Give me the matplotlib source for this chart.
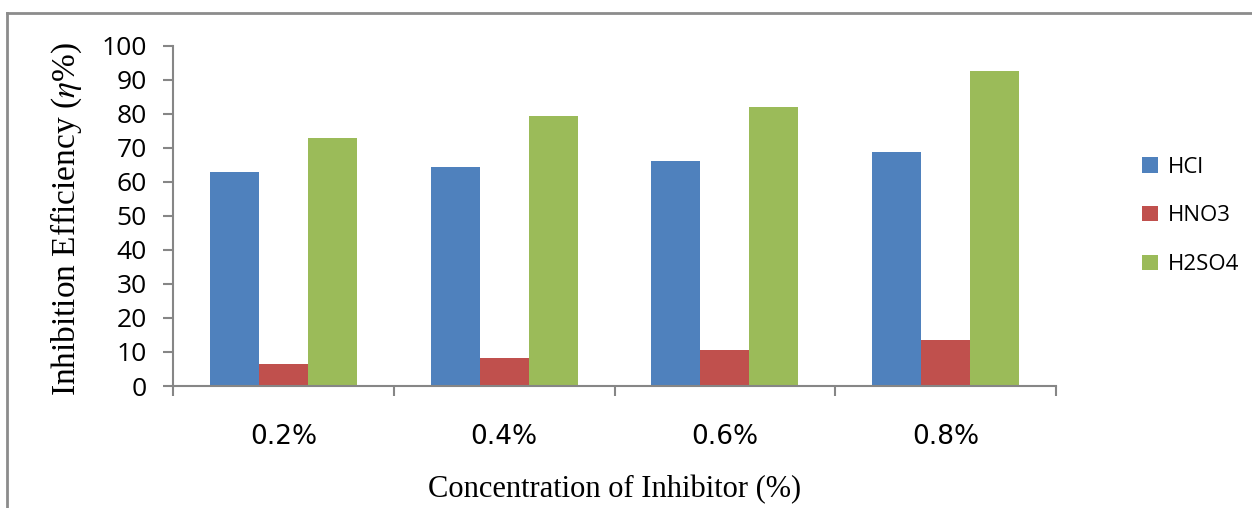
import numpy as np
import matplotlib.pyplot as plt
from matplotlib.lines import Line2D

# data
concentrations = ['0.2%', '0.4%', '0.6%', '0.8%']
hcl = [62.8, 64.5, 66.2, 68.7]
hno3 = [6.4, 8.1, 10.7, 13.5]
h2so4 = [73.0, 79.2, 81.9, 92.6]

series = [('HCl', hcl, '#4F81BD'),
          ('HNO3', hno3, '#C0504D'),
          ('H2SO4', h2so4, '#9BBB59')]

plt.rcParams['mathtext.fontset'] = 'stix'

fig = plt.figure(figsize=(12.52, 5.08), dpi=100)
ax = fig.add_axes([173/1252, 1-386/508, (1056-173)/1252, (386-45.7)/508])

x = np.arange(len(concentrations))
w = 0.222
for i, (name, vals, col) in enumerate(series):
    ax.bar(x + (i-1)*w, vals, w, color=col, label=name, linewidth=0)

axis_col = '#868686'
ax.set_xlim(-0.5, len(concentrations)-0.5)
ax.set_ylim(0, 100)
ax.set_yticks(range(0, 101, 10))
ax.tick_params(axis='y', direction='out', length=7, width=1.5, color=axis_col,
               labelsize=19, pad=12)
for lab in ax.get_yticklabels():
    lab.set_family(['Open Sans', 'DejaVu Sans'])

# category boundaries carry the x ticks, labels sit at the centres
ax.set_xticks(np.arange(-0.5, len(concentrations), 1.0))
ax.set_xticklabels([])
ax.tick_params(axis='x', direction='out', length=7, width=1.5, color=axis_col)
ax.set_xticks(x, minor=True)
ax.set_xticklabels(concentrations, minor=True)
ax.tick_params(axis='x', which='minor', length=0, pad=27, labelsize=19)
for lab in ax.get_xticklabels(minor=True):
    lab.set_family(['Liberation Sans Narrow', 'DejaVu Sans Condensed', 'DejaVu Sans'])

for s in ['top', 'right']:
    ax.spines[s].set_visible(False)
for s in ['left', 'bottom']:
    ax.spines[s].set_color(axis_col)
    ax.spines[s].set_linewidth(1.5)

ax.set_ylabel(r'Inhibition Efficiency ($\eta$%)', family='Liberation Serif',
              fontsize=24)
ax.yaxis.set_label_coords(-0.101, 0.49)
ax.set_xlabel('Concentration of Inhibitor (%)', family='Liberation Serif',
              fontsize=22)
ax.xaxis.set_label_coords(0.5, -0.262)

leg = ax.legend(loc='center left', bbox_to_anchor=(1.075, 0.5), frameon=False,
                prop={'family': 'Open Sans', 'size': 16}, handlelength=0.7,
                handleheight=0.7, handletextpad=0.45, labelspacing=1.25)

# chart frame
fig.add_artist(Line2D([7/1252, 1], [1-13/508, 1-13/508], color='#8C8C8C', lw=2))
fig.add_artist(Line2D([7/1252, 7/1252], [0, 1-13/508], color='#8C8C8C', lw=2))

fig.savefig('out.png', dpi=100)
